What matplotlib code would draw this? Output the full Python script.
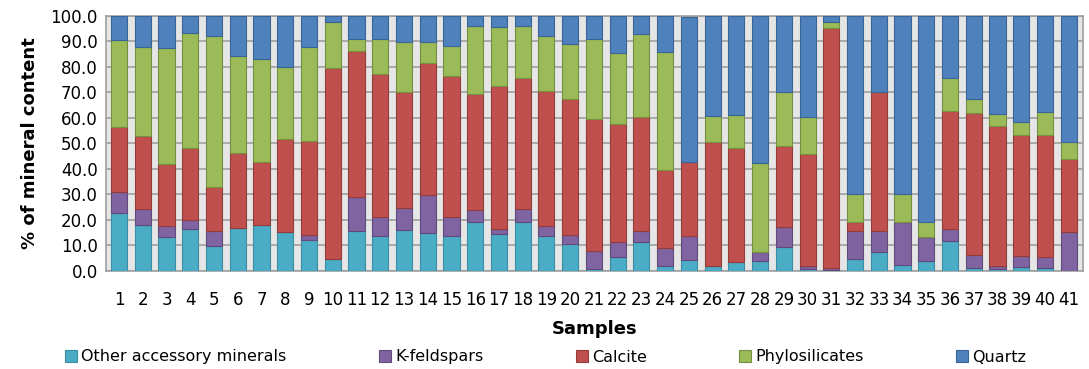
import matplotlib
matplotlib.use("Agg")
import matplotlib.pyplot as plt
import numpy as np

samples = [str(i) for i in range(1, 42)]
# cumulative tops
cum_other = [22.5, 17.9, 13.0, 16.3, 9.8, 16.8, 17.9, 15.3, 12.0, 4.5,
             15.4, 13.6, 15.8, 14.9, 13.6, 19.2, 14.5, 19.2, 13.6, 10.3,
             0.5, 5.4, 11.1, 1.6, 4.1, 1.8, 3.2, 3.7, 9.2, 0.5,
             0.3, 4.5, 7.4, 2.3, 3.7, 11.7, 1.1, 0.5, 1.5, 1.1, 0.0]
cum_kfeld = [31.0, 24.0, 17.4, 19.7, 15.5, 16.8, 17.9, 15.3, 13.9, 4.5,
             28.7, 21.2, 24.4, 29.7, 21.2, 23.9, 16.4, 24.0, 17.5, 14.1,
             7.8, 11.1, 15.5, 8.8, 13.7, 1.8, 3.2, 7.4, 17.0, 1.8,
             0.9, 15.5, 15.5, 19.2, 13.2, 16.3, 6.1, 1.9, 5.7, 5.2, 15.0]
cum_calcite = [56.5, 52.8, 42.0, 48.0, 32.9, 46.2, 42.5, 51.8, 50.9, 79.7,
               86.3, 77.2, 70.3, 81.5, 76.4, 69.4, 72.5, 75.5, 70.7, 67.3,
               59.4, 57.6, 60.2, 39.5, 42.8, 50.4, 48.0, 7.4, 48.9, 45.6,
               95.4, 18.9, 70.3, 19.2, 13.2, 62.8, 61.8, 56.9, 53.2, 53.2, 43.8]
cum_phylo = [90.6, 87.7, 87.3, 93.2, 92.3, 84.4, 83.0, 80.1, 87.7, 97.5,
             91.0, 91.0, 89.9, 89.9, 88.1, 96.1, 95.5, 96.1, 92.3, 89.0,
             91.0, 85.3, 92.8, 85.7, 42.8, 60.7, 61.1, 42.2, 70.0, 60.4,
             97.5, 30.0, 70.3, 30.0, 19.2, 75.5, 67.3, 61.6, 58.5, 62.1, 50.6]
cum_total = [100.0] * 24 + [99.5] + [100.0] * 16

cums = [cum_other, cum_kfeld, cum_calcite, cum_phylo, cum_total]
series_names = ["Other accessory minerals", "K-feldspars", "Calcite",
                "Phylosilicates", "Quartz"]
colors = ["#4bacc6", "#8064a2", "#c0504d", "#9bbb59", "#4f81bd"]
edges = ["#3a8da3", "#5f4a7a", "#943c3a", "#76903f", "#3a6496"]

arr = np.array(cums)
vals = np.diff(np.vstack([np.zeros(41), arr]), axis=0)

fig = plt.figure(figsize=(10.89, 3.69), dpi=100)
ax = fig.add_axes([106 / 1089, 1 - 270.5 / 369, (1083 - 106) / 1089, (270.5 - 16) / 369])
ax.set_facecolor("#e6e6e6")
x = np.arange(41)
bottom = np.zeros(41)
handles = []
for i in range(5):
    h = ax.bar(x, vals[i], bottom=bottom, width=0.68, color=colors[i],
               edgecolor=edges[i], linewidth=0.8, label=series_names[i], zorder=3)
    handles.append(h)
    bottom += vals[i]

ax.set_ylim(0, 100)
ax.set_xlim(-0.55, 40.6)
ax.set_yticks(np.arange(0, 101, 10))
ax.set_yticklabels([f"{v:.1f}" for v in np.arange(0, 101, 10)], fontsize=12)
ax.set_xticks(x)
ax.set_xticklabels(samples, fontsize=12)
ax.yaxis.grid(True, color="#a0a0a0", linewidth=1.2, zorder=0)
ax.tick_params(axis="both", length=0, pad=6)
ax.tick_params(axis="x", pad=15)
for s in ax.spines.values():
    s.set_color("#a0a0a0")
    s.set_linewidth(1.2)

ax.set_ylabel("% of mineral content", fontsize=13, fontweight="bold", labelpad=8)
ax.set_xlabel("Samples", fontsize=13, fontweight="bold", labelpad=8)

legend_x = [65, 379, 576, 739, 956]
for h, name, lx in zip(handles, series_names, legend_x):
    lg = fig.legend(handles=[h], labels=[name], loc="center left",
                    bbox_to_anchor=(lx / 1089, 1 - 357 / 369), frameon=False,
                    fontsize=11.5, handlelength=0.75, handleheight=0.75,
                    handletextpad=0.25, borderpad=0, borderaxespad=0)

fig.savefig("out.png", dpi=100)
